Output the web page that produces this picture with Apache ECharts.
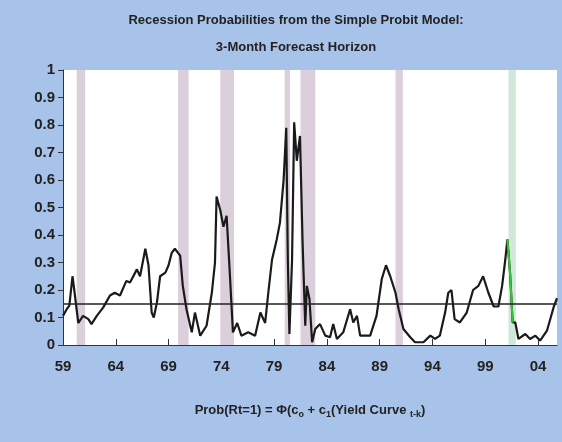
<!DOCTYPE html>
<html>
<head>
<meta charset="utf-8">
<script src="https://cdn.jsdelivr.net/npm/echarts@6/dist/echarts.min.js"></script>
<style>html,body{margin:0;padding:0;background:#a8c3ea;}#myechart{width:562px;height:442px;}</style>
</head>
<body>
<div id="myechart"></div>
<script>
// x = years since 1959
var probit = [
  [0,0.106],[0.35,0.13],[0.6,0.143],[0.9,0.25],[1.1,0.19],[1.45,0.08],[1.9,0.106],[2.4,0.094],
  [2.7,0.076],[3.2,0.106],[3.8,0.136],[4.45,0.18],[4.9,0.19],[5.4,0.18],[6.0,0.233],[6.35,0.227],
  [7.0,0.275],[7.3,0.25],[7.8,0.35],[8.1,0.29],[8.4,0.118],[8.6,0.1],[8.9,0.155],[9.2,0.25],
  [9.7,0.263],[10.0,0.29],[10.3,0.335],[10.6,0.35],[11.1,0.325],[11.35,0.215],[11.7,0.13],[12.2,0.046],
  [12.5,0.118],[13.0,0.034],[13.6,0.07],[14.1,0.19],[14.4,0.3],[14.55,0.54],[14.9,0.49],[15.2,0.43],
  [15.5,0.47],[15.8,0.263],[16.1,0.046],[16.5,0.08],[16.9,0.034],[17.55,0.046],[18.2,0.034],[18.7,0.118],
  [19.15,0.08],[19.45,0.19],[19.8,0.31],[20.25,0.384],[20.55,0.444],[20.9,0.6],[21.15,0.79],[21.3,0.31],
  [21.45,0.04],[21.7,0.31],[21.9,0.81],[22.15,0.67],[22.45,0.76],[22.7,0.37],[22.95,0.07],[23.1,0.215],
  [23.35,0.167],[23.6,0.01],[23.9,0.058],[24.35,0.076],[24.85,0.034],[25.3,0.028],[25.6,0.076],[25.95,0.022],
  [26.55,0.046],[27.2,0.13],[27.5,0.082],[27.85,0.106],[28.15,0.034],[28.6,0.034],[29.1,0.034],[29.7,0.106],
  [30.2,0.24],[30.6,0.29],[31.0,0.25],[31.5,0.19],[31.8,0.13],[32.25,0.058],[32.9,0.028],[33.35,0.01],
  [34.15,0.01],[34.8,0.034],[35.25,0.022],[35.7,0.034],[36.2,0.118],[36.5,0.19],[36.8,0.2],[37.1,0.094],
  [37.6,0.082],[38.25,0.118],[38.85,0.2],[39.35,0.215],[39.8,0.25],[40.3,0.19],[40.8,0.14],[41.25,0.14],
  [41.6,0.215],[41.9,0.31],[42.1,0.384],[42.35,0.263],[42.6,0.082],[42.85,0.082],[43.15,0.022],[43.8,0.04],
  [44.25,0.022],[44.75,0.034],[45.2,0.016],[45.85,0.052],[46.5,0.14],[46.8,0.17]
];
var greenPart = [[42.1,0.384],[42.35,0.263],[42.6,0.082]];
var recessions = [[1.3,2.1],[10.9,11.9],[14.9,16.2],[21.0,21.5],[22.5,23.9],[31.5,32.2]];
var recession2001 = [42.2,42.9];
var threshold = 0.15;

var myechart = echarts.init(document.getElementById('myechart'));
var fontF = '"Liberation Sans Narrow", "Liberation Sans", Arial, sans-serif';
myechart.setOption({
  backgroundColor: '#a8c3ea',
  animation: false,
  title: {
    text: 'Recession Probabilities from the Simple Probit Model:\n3-Month Forecast Horizon',
    left: 291, top: 2, textAlign: 'center',
    textStyle: { fontFamily: fontF, fontSize: 13, fontWeight: 'bold', color: '#222', lineHeight: 27 }
  },
  grid: { left: 63, right: 5, top: 70, bottom: 97, backgroundColor: '#fff', show: true, borderWidth: 0 },
  xAxis: {
    type: 'value', min: 0, max: 46.8, interval: 5,
    name: '{a|Prob(Rt=1) = Φ(c}{s|o}{a| + c}{s|1}{a|(Yield Curve }{s|t-k}{a|)}',
    nameLocation: 'middle', nameGap: 57,
    nameTextStyle: { rich: {
      a: { fontFamily: fontF, fontSize: 13, fontWeight: 'bold', color: '#222' },
      s: { fontFamily: fontF, fontSize: 9, fontWeight: 'bold', color: '#222', verticalAlign: 'bottom', padding: [8,0,0,0] }
    }},
    splitLine: { show: false },
    axisLine: { onZero: false, lineStyle: { color: '#333' } },
    axisTick: { inside: true, length: 6, lineStyle: { color: '#333' } },
    axisLabel: {
      fontFamily: fontF, fontSize: 15, fontWeight: 'bold', color: '#222', margin: 14,
      formatter: function (v) { var y = (59 + v) % 100; return (y < 10 ? '0' : '') + y; },
      showMaxLabel: false
    }
  },
  yAxis: {
    type: 'value', min: 0, max: 1, interval: 0.1,
    splitLine: { show: false },
    axisLine: { show: true, lineStyle: { color: '#333' } },
    axisTick: { show: true, length: 5, lineStyle: { color: '#333' } },
    axisLabel: { fontFamily: fontF, fontSize: 15, fontWeight: 'bold', color: '#222', margin: 8 }
  },
  series: [
    {
      type: 'line', data: probit, showSymbol: false, z: 3,
      lineStyle: { color: '#1a1a1a', width: 2.2 },
      markArea: {
        silent: true, itemStyle: { color: '#dccfdc' },
        data: recessions.map(function (r) { return [{ xAxis: r[0] }, { xAxis: r[1] }]; })
          .concat([[{ xAxis: recession2001[0], itemStyle: { color: '#cfe8da' } }, { xAxis: recession2001[1] }]])
      },
      markLine: {
        silent: true, symbol: 'none', label: { show: false },
        lineStyle: { color: '#222', width: 1.5, type: 'solid' },
        data: [{ yAxis: threshold }]
      }
    },
    {
      type: 'line', data: greenPart, showSymbol: false, z: 4,
      lineStyle: { color: '#3bc43b', width: 2 }
    }
  ]
});
</script>
</body>
</html>
